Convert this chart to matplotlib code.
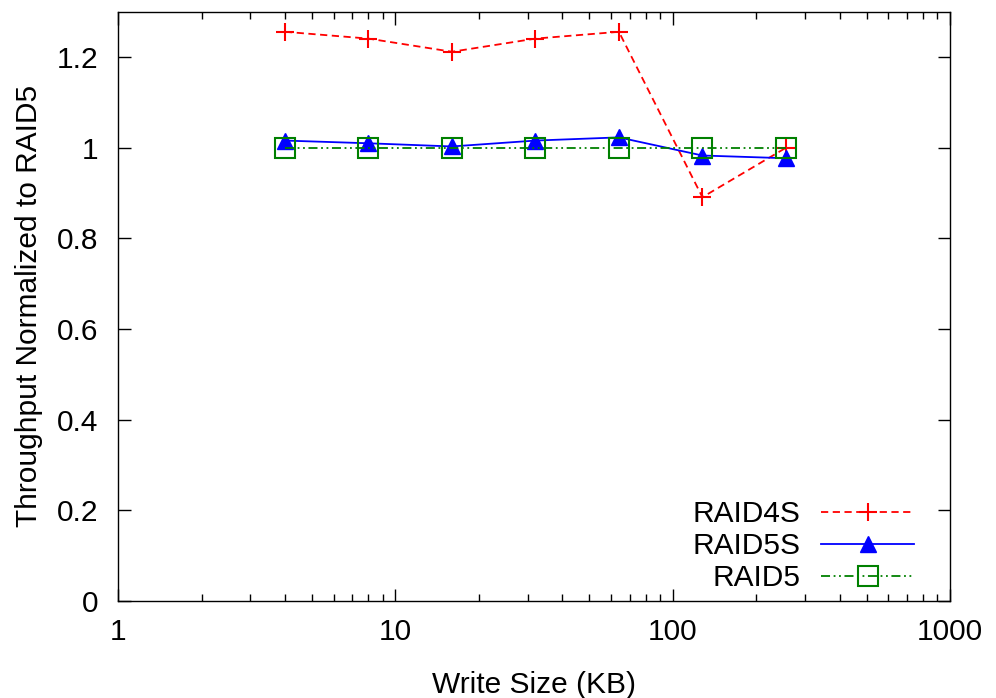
import numpy as np
import matplotlib
matplotlib.use('Agg')
import matplotlib.pyplot as plt
from matplotlib.ticker import LogLocator, NullFormatter, FixedLocator

plt.rcParams['font.family'] = ['Liberation Sans', 'DejaVu Sans']

# write sizes (KB)
sizes = [4, 8, 16, 32, 64, 128, 256]
raid4s = [1.256, 1.241, 1.212, 1.241, 1.256, 0.891, 1.0]
raid5s = [1.016, 1.010, 1.003, 1.016, 1.023, 0.983, 0.977]
raid5 = [1.0, 1.0, 1.0, 1.0, 1.0, 1.0, 1.0]

fs = 21.5

fig = plt.figure(figsize=(9.96, 6.98), dpi=100)
ax = fig.add_axes([0.1185, 0.139, 0.8353, 0.844])

ax.plot(sizes, raid4s, color='#ff0000', ls=(0, (4, 2.5)), lw=1.3,
        marker='+', ms=13, mew=1.5, label='RAID4S')
ax.plot(sizes, raid5s, color='#0000ff', ls='-', lw=1.3,
        marker='^', ms=11.5, label='RAID5S')
ax.plot(sizes, raid5, color='#008000', ls=(0, (5, 2, 1, 2, 1, 2)), lw=1.3,
        marker='s', ms=14, mfc='none', mew=1.5, label='RAID5')

ax.set_xscale('log')
ax.set_xlim(1, 1000)
ax.set_ylim(0, 1.3)
ax.xaxis.set_major_locator(FixedLocator([1, 10, 100, 1000]))
ax.xaxis.set_major_formatter(matplotlib.ticker.FuncFormatter(lambda v, p: '%d' % v))
ax.xaxis.set_minor_locator(LogLocator(base=10, subs=np.arange(2, 10)))
ax.xaxis.set_minor_formatter(NullFormatter())
ax.set_yticks([0, 0.2, 0.4, 0.6, 0.8, 1.0, 1.2])
ax.set_yticklabels(['0', '0.2', '0.4', '0.6', '0.8', '1', '1.2'])

ax.tick_params(which='both', direction='in', top=True, right=True, labelsize=fs, width=1)
ax.tick_params(which='major', length=9)
ax.tick_params(axis='x', which='major', pad=12)
ax.tick_params(axis='y', which='major', pad=14)
ax.tick_params(which='minor', length=5)
for s in ax.spines.values():
    s.set_linewidth(1)

ax.set_xlabel('Write Size (KB)', fontsize=fs, labelpad=18)
ax.set_ylabel('Throughput Normalized to RAID5', fontsize=fs, labelpad=10)

ax.legend(loc='lower right', bbox_to_anchor=(0.971, -0.005), frameon=False,
          markerfirst=False, fontsize=fs, handlelength=3.1, labelspacing=0.13,
          borderaxespad=0, handletextpad=0.7)

fig.savefig('out.png', dpi=100)
